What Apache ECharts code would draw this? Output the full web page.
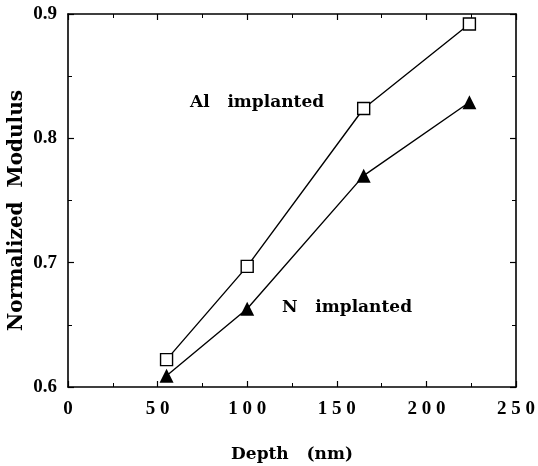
<!DOCTYPE html>
<html>
<head>
<meta charset="utf-8">
<script src="https://cdn.jsdelivr.net/npm/echarts@6/dist/echarts.min.js"></script>
<style>
  html, body { margin: 0; padding: 0; background: #fff; }
  #chart { width: 538px; height: 466px; }
</style>
</head>
<body>
<div id="chart"></div>
<script>
// depth (nm) of each measurement
const depth = [55, 100, 165, 224]
const alValues = [0.622, 0.697, 0.824, 0.892]
const nValues = [0.609, 0.663, 0.770, 0.829]

const tickFont = '"Liberation Serif", "DejaVu Serif", serif'
const textFont = '"DejaVu Serif", "Liberation Serif", serif'

const pairs = (xs, ys) => xs.map((x, i) => [x, ys[i]])
const spaced = v => String(v).split('').join(' ')

const chart = echarts.init(document.getElementById('chart'))

const tickStyle = { show: true, inside: true, length: 6, lineStyle: { color: '#000', width: 1.2 } }
const minorStyle = { show: true, splitNumber: 2, length: 4, lineStyle: { color: '#000', width: 1 } }
const lineStyle = { show: true, onZero: false, lineStyle: { color: '#000', width: 1.6 } }

chart.setOption({
  animation: false,
  grid: { left: 68, right: 22, top: 14, bottom: 79, containLabel: false, outerBoundsMode: 'none' },
  xAxis: [
    {
      type: 'value', min: 0, max: 250, interval: 50,
      name: 'Depth   (nm)', nameLocation: 'middle', nameGap: 59,
      nameTextStyle: { fontFamily: textFont, fontSize: 17, fontWeight: 'bold', color: '#000' },
      axisLine: lineStyle, axisTick: tickStyle, minorTick: minorStyle,
      splitLine: { show: false },
      axisLabel: {
        margin: 13, fontFamily: tickFont, fontSize: 19, fontWeight: 'bold', color: '#000',
        formatter: v => spaced(v)
      }
    },
    {
      type: 'value', min: 0, max: 250, interval: 50, position: 'top',
      axisLine: lineStyle, axisTick: tickStyle, minorTick: minorStyle,
      splitLine: { show: false }, axisLabel: { show: false }
    }
  ],
  yAxis: [
    {
      type: 'value', min: 0.6, max: 0.9, interval: 0.1,
      name: 'Normalized  Modulus', nameLocation: 'middle', nameGap: 41, nameRotate: 90,
      nameMoveOverlap: false,
      nameTextStyle: { fontFamily: textFont, fontSize: 20, fontWeight: 'bold', color: '#000', padding: [0, 20, 0, 0] },
      axisLine: lineStyle, axisTick: tickStyle, minorTick: minorStyle,
      splitLine: { show: false },
      axisLabel: {
        margin: 11, fontFamily: tickFont, fontSize: 19, fontWeight: 'bold', color: '#000',
        formatter: v => v.toFixed(1)
      }
    },
    {
      type: 'value', min: 0.6, max: 0.9, interval: 0.1, position: 'right',
      axisLine: lineStyle, axisTick: tickStyle, minorTick: minorStyle,
      splitLine: { show: false }, axisLabel: { show: false }
    }
  ],
  series: [
    {
      name: 'Al implanted',
      type: 'line',
      data: pairs(depth, alValues),
      symbol: 'rect',
      symbolSize: 12,
      lineStyle: { color: '#000', width: 1.4 },
      itemStyle: { color: '#fff', borderColor: '#000', borderWidth: 1.4 },
      z: 3
    },
    {
      name: 'N implanted',
      type: 'line',
      data: pairs(depth, nValues),
      symbol: 'triangle',
      symbolSize: 14,
      lineStyle: { color: '#000', width: 1.4 },
      itemStyle: { color: '#000' },
      z: 3
    }
  ],
  graphic: [
    {
      type: 'text', left: 190, top: 94,
      style: { text: 'Al   implanted', fontFamily: textFont, fontSize: 17, fontWeight: 'bold', fill: '#000' }
    },
    {
      type: 'text', left: 282, top: 299,
      style: { text: 'N   implanted', fontFamily: textFont, fontSize: 17, fontWeight: 'bold', fill: '#000' }
    }
  ]
})
</script>
</body>
</html>
